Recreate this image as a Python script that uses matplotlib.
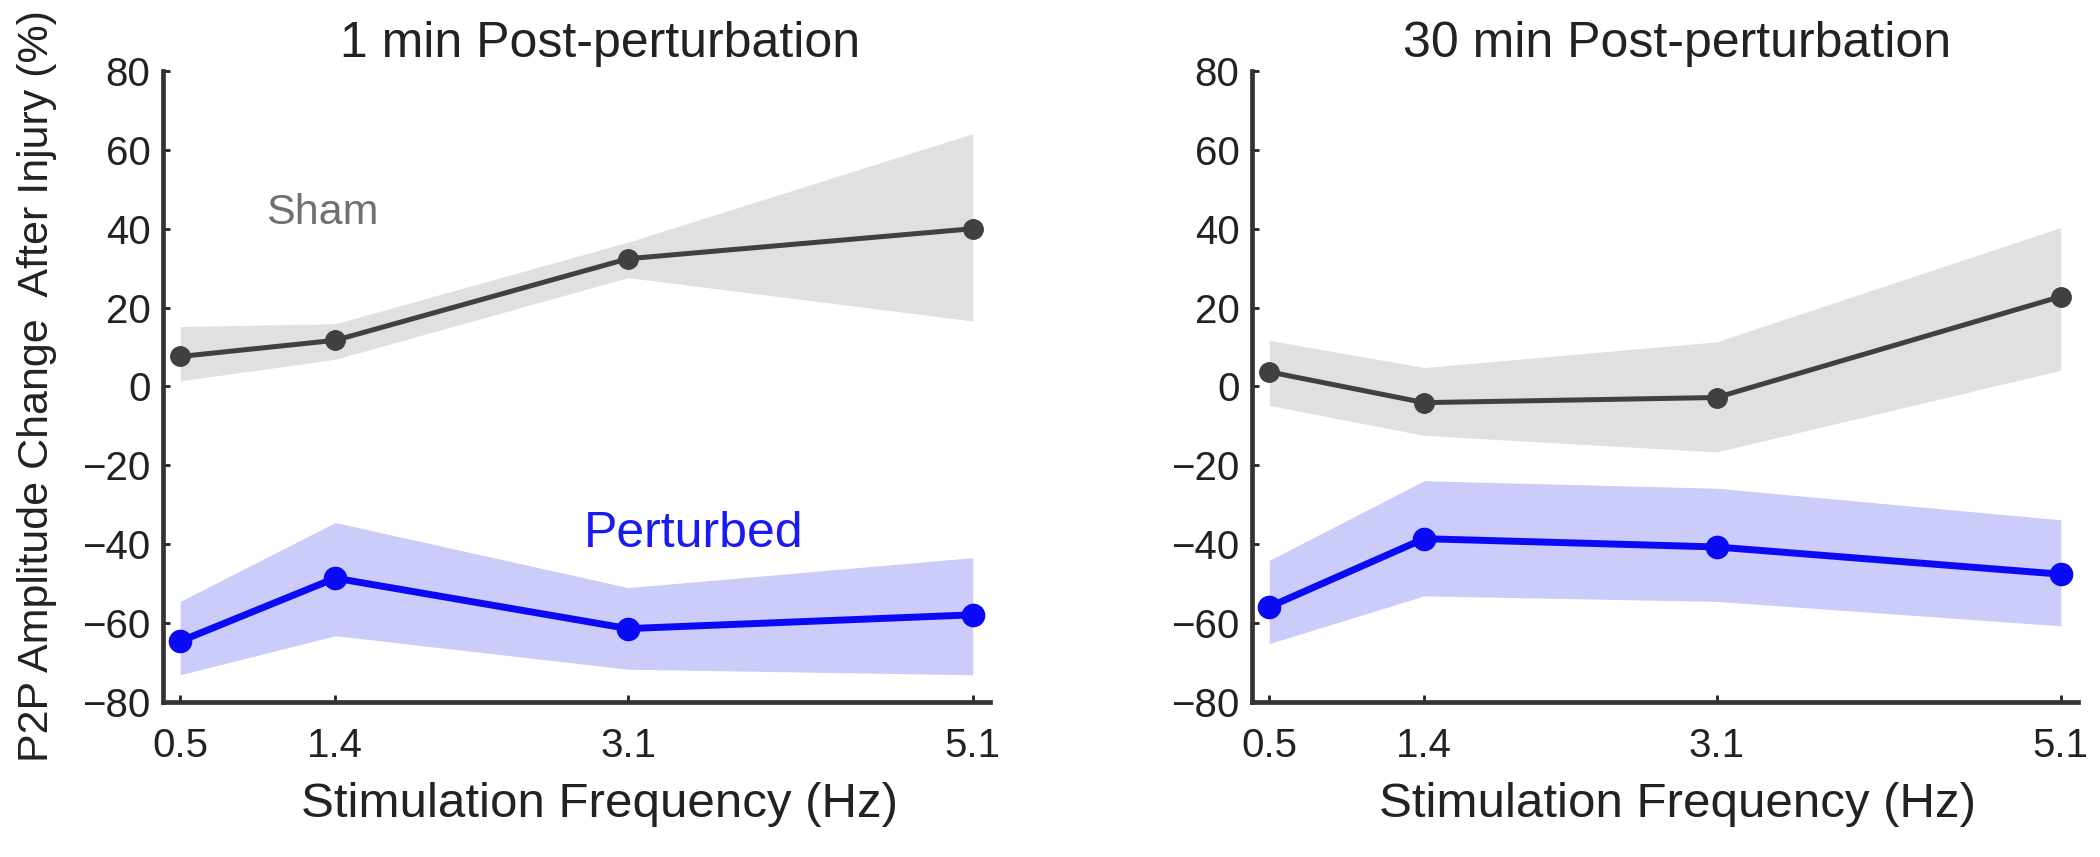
import numpy as np
import matplotlib
matplotlib.use('Agg')
import matplotlib.pyplot as plt

plt.rcParams['font.family'] = ['Liberation Sans', 'DejaVu Sans']

freqs = [0.5, 1.4, 3.1, 5.1]
freq_labels = ['0.5', '1.4', '3.1', '5.1']

# 1 min post-perturbation
sham_1 = [7.6, 11.7, 32.4, 40.0]
sham_1_hi = [15.2, 15.9, 36.6, 64.1]
sham_1_lo = [1.4, 6.9, 27.6, 16.6]
pert_1 = [-64.6, -48.6, -61.4, -57.9]
pert_1_hi = [-54.5, -34.5, -51.0, -43.4]
pert_1_lo = [-73.1, -63.2, -71.7, -73.1]

# 30 min post-perturbation
sham_30 = [3.7, -4.1, -2.8, 22.8]
sham_30_hi = [11.7, 4.8, 11.3, 40.3]
sham_30_lo = [-4.8, -12.4, -16.6, 4.1]
pert_30 = [-55.9, -38.6, -40.7, -47.6]
pert_30_hi = [-44.1, -23.9, -25.8, -33.8]
pert_30_lo = [-65.2, -53.1, -54.5, -60.7]

col_sham = '#404040'
col_sham_band = '#e0e0e0'
col_pert = '#0a0af5'
col_pert_band = '#ccccfa'
col_txt = '#222222'


def panel(ax, title, sham, sham_lo, sham_hi, pert, pert_lo, pert_hi, xshift):
    ax.fill_between(freqs, sham_lo, sham_hi, color=col_sham_band, lw=0)
    ax.fill_between(freqs, pert_lo, pert_hi, color=col_pert_band, lw=0)
    ax.plot(freqs, sham, '-o', color=col_sham, lw=3.6, ms=14, clip_on=False)
    ax.plot(freqs, pert, '-o', color=col_pert, lw=5, ms=16, clip_on=False)
    ax.set_xlim(0.4, 5.2)
    ax.set_ylim(-80, 80)
    ax.set_xticks(freqs)
    ax.set_xticklabels(freq_labels)
    ax.set_yticks(np.arange(-80, 81, 20))
    for s in ['top', 'right']:
        ax.spines[s].set_visible(False)
    for s in ['left', 'bottom']:
        ax.spines[s].set_linewidth(3.4)
        ax.spines[s].set_color('#333333')
    ax.tick_params(axis='both', direction='in', length=5, width=2,
                   color='#222222', labelsize=29, labelcolor=col_txt)
    ax.tick_params(axis='x', pad=18)
    ax.tick_params(axis='y', pad=9)
    ax.set_title(title, fontsize=36, color=col_txt, pad=10, x=0.5 + xshift)
    ax.set_xlabel('Stimulation Frequency (Hz)', fontsize=35.5, color=col_txt, labelpad=12)
    ax.xaxis.label.set_x(0.5 + xshift)


fig = plt.figure(figsize=(21, 8.57), dpi=100)
ax1 = fig.add_axes([0.0776, 0.1809, 0.3938, 0.7363])
ax2 = fig.add_axes([0.5962, 0.1809, 0.3933, 0.7363])

panel(ax1, '1 min Post-perturbation', sham_1, sham_1_lo, sham_1_hi,
      pert_1, pert_1_lo, pert_1_hi, 0.028)
panel(ax2, '30 min Post-perturbation', sham_30, sham_30_lo, sham_30_hi,
      pert_30, pert_30_lo, pert_30_hi, 0.015)

ax1.set_ylabel('P2P Amplitude Change  After Injury (%)', fontsize=31, color=col_txt)
ax1.yaxis.set_label_coords(-0.128, 0.5)
ax1.text(1.325, 44, 'Sham', color='#707070', fontsize=31, ha='center', va='center')
ax1.text(3.48, -37.3, 'Perturbed', color='#1a1af5', fontsize=36, ha='center', va='center')

fig.savefig('out.png', dpi=100)
